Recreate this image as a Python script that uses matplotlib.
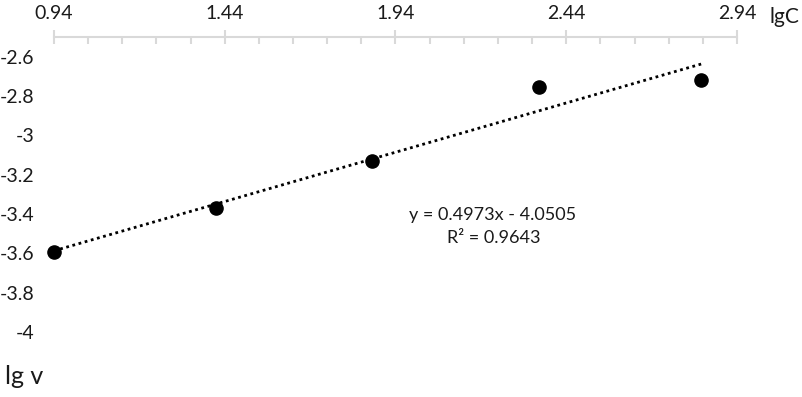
import numpy as np
import matplotlib
matplotlib.use("Agg")
import matplotlib.pyplot as plt
from matplotlib.ticker import FixedLocator

plt.rcParams['font.family'] = ['Lato', 'DejaVu Sans']

lgC = [0.94, 1.414, 1.871, 2.36, 2.835]
lgv = [-3.595, -3.372, -3.132, -2.753, -2.718]
x_ticks = [0.94, 1.44, 1.94, 2.44, 2.94]
x_tick_labels = ["0.94", "1.44", "1.94", "2.44", "2.94"]
y_ticks = [-4.0, -3.8, -3.6, -3.4, -3.2, -3.0, -2.8, -2.6]
y_tick_labels = ["-4", "-3.8", "-3.6", "-3.4", "-3.2", "-3", "-2.8", "-2.6"]
eq_text = "y = 0.4973x - 4.0505"
r2_text = "R² = 0.9643"

W, H = 803, 397
fig = plt.figure(figsize=(W/100, H/100), dpi=100)
ax = fig.add_axes([54/W, 1-332/H, (737-54)/W, (332-37)/H])

ax.set_xlim(0.94, 2.94)
ax.set_ylim(-4.0, -2.5)

tc = '#1a1a1a'
gray = '#d9d9d9'

# trendline
coef = np.polyfit(lgC, lgv, 1)
xs = np.array([min(lgC), max(lgC)])
ax.plot(xs, np.polyval(coef, xs), color='black', lw=2, linestyle=(0, (1, 1.3)), zorder=2)

ax.scatter(lgC, lgv, s=90, color='black', zorder=3, clip_on=False)

for s in ['left', 'right', 'bottom']:
    ax.spines[s].set_visible(False)
ax.spines['top'].set_color(gray)
ax.spines['top'].set_linewidth(1.5)

ax.xaxis.set_ticks_position('top')
ax.xaxis.set_label_position('top')
ax.set_xticks(x_ticks)
ax.set_xticklabels(x_tick_labels)
ax.xaxis.set_minor_locator(FixedLocator([0.94 + 0.1*i for i in range(21)]))
ax.tick_params(axis='x', which='major', direction='inout', length=10, width=1.5,
               color=gray, labelsize=14, labelcolor=tc, pad=6)
ax.tick_params(axis='x', which='minor', direction='in', length=5, width=1.5, color=gray)

ax.set_yticks(y_ticks)
ax.set_yticklabels(y_tick_labels)
ax.tick_params(axis='y', which='both', length=0, labelsize=14, labelcolor=tc, pad=14)

fig.text(770/W, 1-17/H, "lgC", fontsize=15, color=tc, va='center', ha='left')
fig.text(5/W, 1-384/H, "lg v", fontsize=18, color=tc, va='baseline', ha='left')

fig.text(493/W, 1-215/H, eq_text, fontsize=13, color=tc, ha='center', va='center')
fig.text(494/W, 1-238/H, r2_text, fontsize=13, color=tc, ha='center', va='center')

fig.savefig("out.png", dpi=100, facecolor='white')
